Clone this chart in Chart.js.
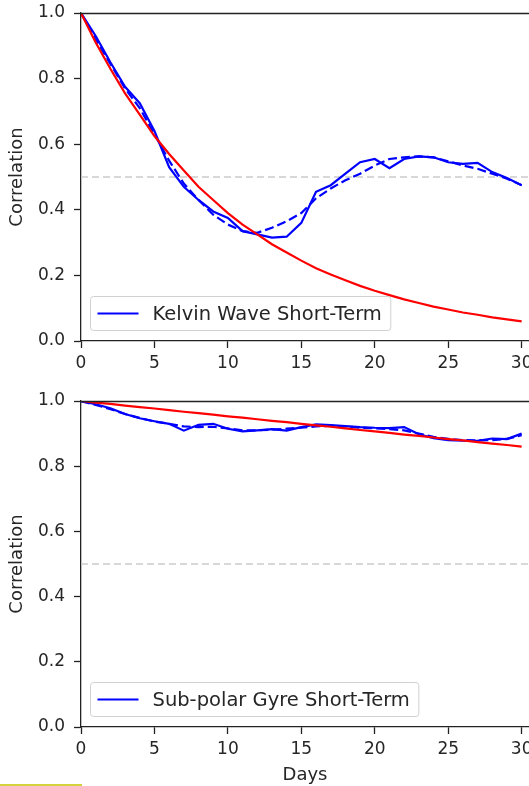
<!DOCTYPE html>
<html>
<head>
<meta charset="utf-8">
<script src="https://cdn.jsdelivr.net/npm/chart.js@4.4.1/dist/chart.umd.min.js"></script>
<style>
  html, body { margin: 0; padding: 0; background: #fff; overflow: hidden; }
  #page { position: relative; width: 529px; height: 786px; }
  #page canvas { position: absolute; left: 0; }
  #topChart { top: 0; }
  #bottomChart { top: 380px; }
  .mark { position: absolute; left: 0; top: 784px; width: 82px; height: 2px; background: #d4d23c; }
</style>
</head>
<body>
<div id="page">
  <canvas id="topChart" width="529" height="380"></canvas>
  <canvas id="bottomChart" width="529" height="406"></canvas>
  <div class="mark"></div>
</div>
<script>
// x values (days) and tick labels
const days = [0, 1, 2, 3, 4, 5, 6, 7, 8, 9, 10, 11, 12, 13, 14, 15, 16, 17, 18, 19, 20, 21, 22, 23, 24, 25, 26, 27, 28, 29, 30];
const xTicks = [0, 5, 10, 15, 20, 25, 30];
const yTicks = [0, 0.2, 0.4, 0.6, 0.8, 1.0];
const xMax = 30.5;
const threshold = 0.5;

// Kelvin wave panel
const kelvinLabel = 'Kelvin Wave Short-Term';
const kelvinObserved = [1.00, 0.93, 0.85, 0.775, 0.725, 0.64, 0.53, 0.47, 0.43, 0.395, 0.375, 0.335, 0.325, 0.315, 0.318, 0.36,
  0.455, 0.475, 0.51, 0.545, 0.555, 0.527, 0.555, 0.563, 0.56, 0.545, 0.54, 0.543, 0.515, 0.497, 0.475];
const kelvinSmoothed = [1.00, 0.92, 0.845, 0.77, 0.71, 0.63, 0.55, 0.48, 0.43, 0.385, 0.355, 0.335, 0.33, 0.345, 0.365, 0.39,
  0.435, 0.465, 0.49, 0.51, 0.535, 0.555, 0.56, 0.563, 0.56, 0.548, 0.535, 0.525, 0.51, 0.495, 0.475];
const kelvinFit = [1.00, 0.91, 0.83, 0.755, 0.69, 0.625, 0.57, 0.52, 0.47, 0.43, 0.39, 0.355, 0.325, 0.295, 0.27, 0.245,
  0.222, 0.203, 0.185, 0.168, 0.153, 0.14, 0.127, 0.116, 0.105, 0.096, 0.087, 0.08, 0.072, 0.066, 0.06];

// Sub-polar gyre panel
const gyreLabel = 'Sub-polar Gyre Short-Term';
const gyreObserved = [1.00, 0.99, 0.978, 0.96, 0.947, 0.938, 0.93, 0.909, 0.927, 0.93, 0.915, 0.907, 0.91, 0.914, 0.909, 0.92,
  0.928, 0.926, 0.923, 0.92, 0.918, 0.917, 0.92, 0.898, 0.886, 0.88, 0.878, 0.878, 0.885, 0.883, 0.90];
const gyreSmoothed = [1.00, 0.988, 0.975, 0.96, 0.948, 0.937, 0.93, 0.922, 0.92, 0.921, 0.916, 0.91, 0.91, 0.912, 0.915, 0.918,
  0.922, 0.924, 0.922, 0.918, 0.916, 0.914, 0.91, 0.90, 0.89, 0.884, 0.88, 0.879, 0.88, 0.884, 0.895];
const gyreFit = [1.00, 0.995, 0.991, 0.986, 0.981, 0.977, 0.972, 0.967, 0.963, 0.958, 0.953, 0.949, 0.944, 0.939, 0.935, 0.93,
  0.925, 0.921, 0.916, 0.911, 0.907, 0.902, 0.897, 0.893, 0.888, 0.883, 0.879, 0.874, 0.869, 0.865, 0.86];

const TICK_FONT = { family: '"DejaVu Sans"', size: 17 };
const TITLE_FONT = { family: '"DejaVu Sans"', size: 18 };
const LEGEND_FONT = '19.5px "DejaVu Sans"';
const TEXT = '#262626';
const AXIS = '#222';

function toPoints(values) {
  return days.map((d, i) => ({ x: d, y: values[i] }));
}

// matplotlib-style top spine
const topSpine = {
  id: 'topSpine',
  afterDraw(chart) {
    const { ctx, chartArea } = chart;
    ctx.save();
    ctx.strokeStyle = AXIS;
    ctx.lineWidth = 1.3;
    ctx.beginPath();
    ctx.moveTo(chartArea.left, chartArea.top + 0.5);
    ctx.lineTo(chartArea.right, chartArea.top + 0.5);
    ctx.stroke();
    ctx.restore();
  }
};

// legend box in lower-left corner of the plot
const insetLegend = {
  id: 'insetLegend',
  afterDraw(chart, args, opts) {
    const { ctx, chartArea } = chart;
    ctx.save();
    ctx.font = LEGEND_FONT;
    const tw = ctx.measureText(opts.text).width;
    const h = 34;
    const x = chartArea.left + 9.5;
    const y = chartArea.bottom - 11 - h + 0.5;
    const w = 62 + tw + 9;
    ctx.beginPath();
    if (ctx.roundRect) ctx.roundRect(x, y, w, h, 3); else ctx.rect(x, y, w, h);
    ctx.fillStyle = 'rgba(255,255,255,0.8)';
    ctx.fill();
    ctx.strokeStyle = '#d0d0d0';
    ctx.lineWidth = 1;
    ctx.stroke();
    ctx.strokeStyle = opts.color;
    ctx.lineWidth = 2.2;
    ctx.beginPath();
    ctx.moveTo(x + 7, y + h / 2);
    ctx.lineTo(x + 48, y + h / 2);
    ctx.stroke();
    ctx.fillStyle = TEXT;
    ctx.textBaseline = 'middle';
    ctx.fillText(opts.text, x + 62, y + h / 2 + 1);
    ctx.restore();
  }
};

function buildScales(xHeight, showXTitle) {
  const grid = { drawOnChartArea: false, drawTicks: true, tickLength: 7, tickColor: AXIS, tickWidth: 1.3 };
  const border = { display: true, color: AXIS, width: 1.3 };
  return {
    x: {
      type: 'linear', min: 0, max: xMax,
      afterBuildTicks: s => { s.ticks = xTicks.map(v => ({ value: v })); },
      afterFit: s => { s.height = xHeight; s.paddingLeft = 0; s.paddingRight = 0; },
      grid, border,
      ticks: { font: TICK_FONT, color: TEXT, padding: 5, maxRotation: 0, autoSkip: false, callback: v => String(v) },
      title: { display: showXTitle, text: 'Days', font: TITLE_FONT, color: TEXT, padding: { top: 0, bottom: 0 } }
    },
    y: {
      type: 'linear', min: 0, max: 1,
      afterBuildTicks: s => { s.ticks = yTicks.map(v => ({ value: v })); },
      afterFit: s => { s.width = 81; s.paddingTop = 0; s.paddingBottom = 0; },
      grid, border,
      ticks: { font: TICK_FONT, color: TEXT, padding: 9, autoSkip: false, callback: v => v.toFixed(1) },
      title: { display: true, text: 'Correlation', font: TITLE_FONT, color: TEXT, padding: { top: 7, bottom: 0 } }
    }
  };
}

function buildChart(id, observed, smoothed, fit, label, padTop, xHeight, showXTitle) {
  return new Chart(document.getElementById(id), {
    type: 'line',
    data: {
      datasets: [
        { data: toPoints(fit), borderColor: '#ff0000', borderWidth: 2.2 },
        { data: toPoints(observed), borderColor: '#0000ff', borderWidth: 2.2 },
        { data: toPoints(smoothed), borderColor: '#0000ff', borderWidth: 2.2, borderDash: [9, 4] },
        { data: [{ x: 0, y: threshold }, { x: xMax, y: threshold }], borderColor: '#cccccc', borderWidth: 1.6, borderDash: [7, 4] }
      ]
    },
    options: {
      responsive: false,
      animation: false,
      parsing: false,
      layout: { padding: { top: padTop, left: 0, right: 0, bottom: 0 } },
      elements: { point: { radius: 0 }, line: { tension: 0, fill: false } },
      plugins: {
        legend: { display: false },
        tooltip: { enabled: false },
        insetLegend: { text: label, color: '#0000ff' }
      },
      scales: buildScales(xHeight, showXTitle)
    },
    plugins: [topSpine, insetLegend]
  });
}

buildChart('topChart', kelvinObserved, kelvinSmoothed, kelvinFit, kelvinLabel, 13, 39, false);
buildChart('bottomChart', gyreObserved, gyreSmoothed, gyreFit, gyreLabel, 21, 59, true);
</script>
</body>
</html>
